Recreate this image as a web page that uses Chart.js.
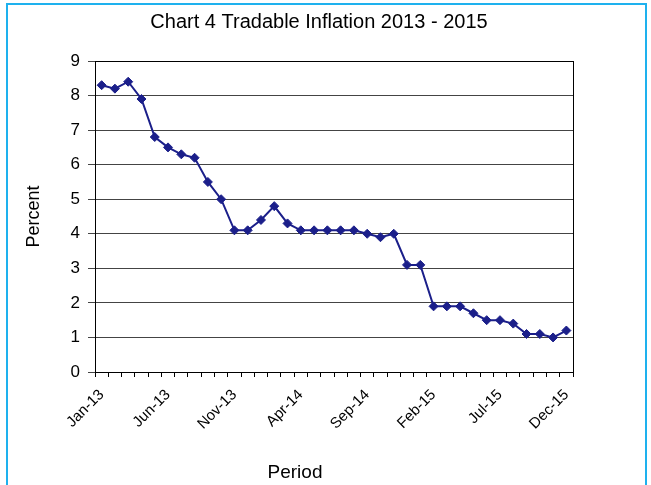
<!DOCTYPE html>
<html>
<head>
<meta charset="utf-8">
<script src="https://cdn.jsdelivr.net/npm/chart.js@4/dist/chart.umd.min.js"></script>
<style>
  body { margin: 0; background: #fff; }
  #wrap { position: relative; width: 651px; height: 485px; overflow: hidden; }
  #frame { position: absolute; left: 6px; top: 3px; width: 637px; height: 520px;
           border: 2px solid #1eb1ee; border-bottom: none; }
  canvas { position: absolute; left: 0; top: 0; }
</style>
</head>
<body>
<div id="wrap">
  <div id="frame"></div>
  <canvas id="chTradable" width="651" height="485"></canvas>
</div>
<script>
// monthly periods Jan-13 .. Dec-15
var periods = [
  'Jan-13','Feb-13','Mar-13','Apr-13','May-13','Jun-13','Jul-13','Aug-13','Sep-13','Oct-13','Nov-13','Dec-13',
  'Jan-14','Feb-14','Mar-14','Apr-14','May-14','Jun-14','Jul-14','Aug-14','Sep-14','Oct-14','Nov-14','Dec-14',
  'Jan-15','Feb-15','Mar-15','Apr-15','May-15','Jun-15','Jul-15','Aug-15','Sep-15','Oct-15','Nov-15','Dec-15'
];

// tradable inflation, percent
var tradable = [
  8.3, 8.2, 8.4, 7.9, 6.8, 6.5, 6.3, 6.2, 5.5, 5.0, 4.1, 4.1,
  4.4, 4.8, 4.3, 4.1, 4.1, 4.1, 4.1, 4.1, 4.0, 3.9, 4.0, 3.1,
  3.1, 1.9, 1.9, 1.9, 1.7, 1.5, 1.5, 1.4, 1.1, 1.1, 1.0, 1.2
];

var yTicks = [0, 1, 2, 3, 4, 5, 6, 7, 8, 9];

var lineColor = '#1b1f8a';
var font = 'Liberation Sans, Arial, sans-serif';

// box round the plot area, plus the chart title and the x title,
// which sit off-centre in the original
var plotBox = {
  id: 'plotBox',
  afterDraw: function (chart) {
    var a = chart.chartArea;
    var ctx = chart.ctx;
    ctx.save();
    ctx.strokeStyle = '#000';
    ctx.lineWidth = 1;
    ctx.strokeRect(Math.round(a.left) + 0.5, Math.round(a.top) + 0.5,
                   Math.round(a.right - a.left), Math.round(a.bottom - a.top));

    ctx.fillStyle = '#000';
    ctx.textAlign = 'center';
    ctx.textBaseline = 'middle';
    ctx.font = '20px ' + font;
    ctx.fillText('Chart 4 Tradable Inflation 2013 - 2015', 319, 22);
    ctx.font = '19px ' + font;
    ctx.fillText('Period', 295, 473);
    ctx.restore();
  }
};

new Chart(document.getElementById('chTradable'), {
  type: 'line',
  data: {
    labels: periods,
    datasets: [{
      data: tradable,
      borderColor: lineColor,
      backgroundColor: lineColor,
      borderWidth: 2,
      pointStyle: 'rectRot',
      pointRadius: 4.5,
      pointBorderWidth: 1,
      tension: 0
    }]
  },
  options: {
    responsive: false,
    animation: false,
    layout: { padding: { left: 23, right: 78, top: 61, bottom: 0 } },
    plugins: {
      legend: { display: false },
      tooltip: { enabled: false },
      title: { display: false }
    },
    scales: {
      x: {
        type: 'category',
        offset: true,
        grid: { offset: true, drawOnChartArea: false, drawTicks: true, tickLength: 5, color: '#000' },
        border: { color: '#000', width: 1 },
        ticks: {
          autoSkip: false,
          maxRotation: 45,
          minRotation: 45,
          color: '#000',
          padding: 9,
          font: { family: font, size: 15 },
          callback: function (v, i) { return i % 5 === 0 ? periods[i] : ''; }
        },
        afterFit: function (s) { s.height = 113; }
      },
      y: {
        min: 0,
        max: 9,
        afterBuildTicks: function (s) { s.ticks = yTicks.map(function (v) { return { value: v }; }); },
        grid: { color: '#444', drawTicks: true, tickLength: 7 },
        border: { color: '#000', width: 1 },
        ticks: {
          color: '#000',
          padding: 8,
          font: { family: font, size: 17 }
        },
        title: {
          display: true,
          text: 'Percent',
          color: '#000',
          font: { family: font, size: 18 },
          padding: { top: 0, bottom: 0 }
        },
        afterFit: function (s) { s.width = 72; }
      }
    }
  },
  plugins: [plotBox]
});
</script>
</body>
</html>
